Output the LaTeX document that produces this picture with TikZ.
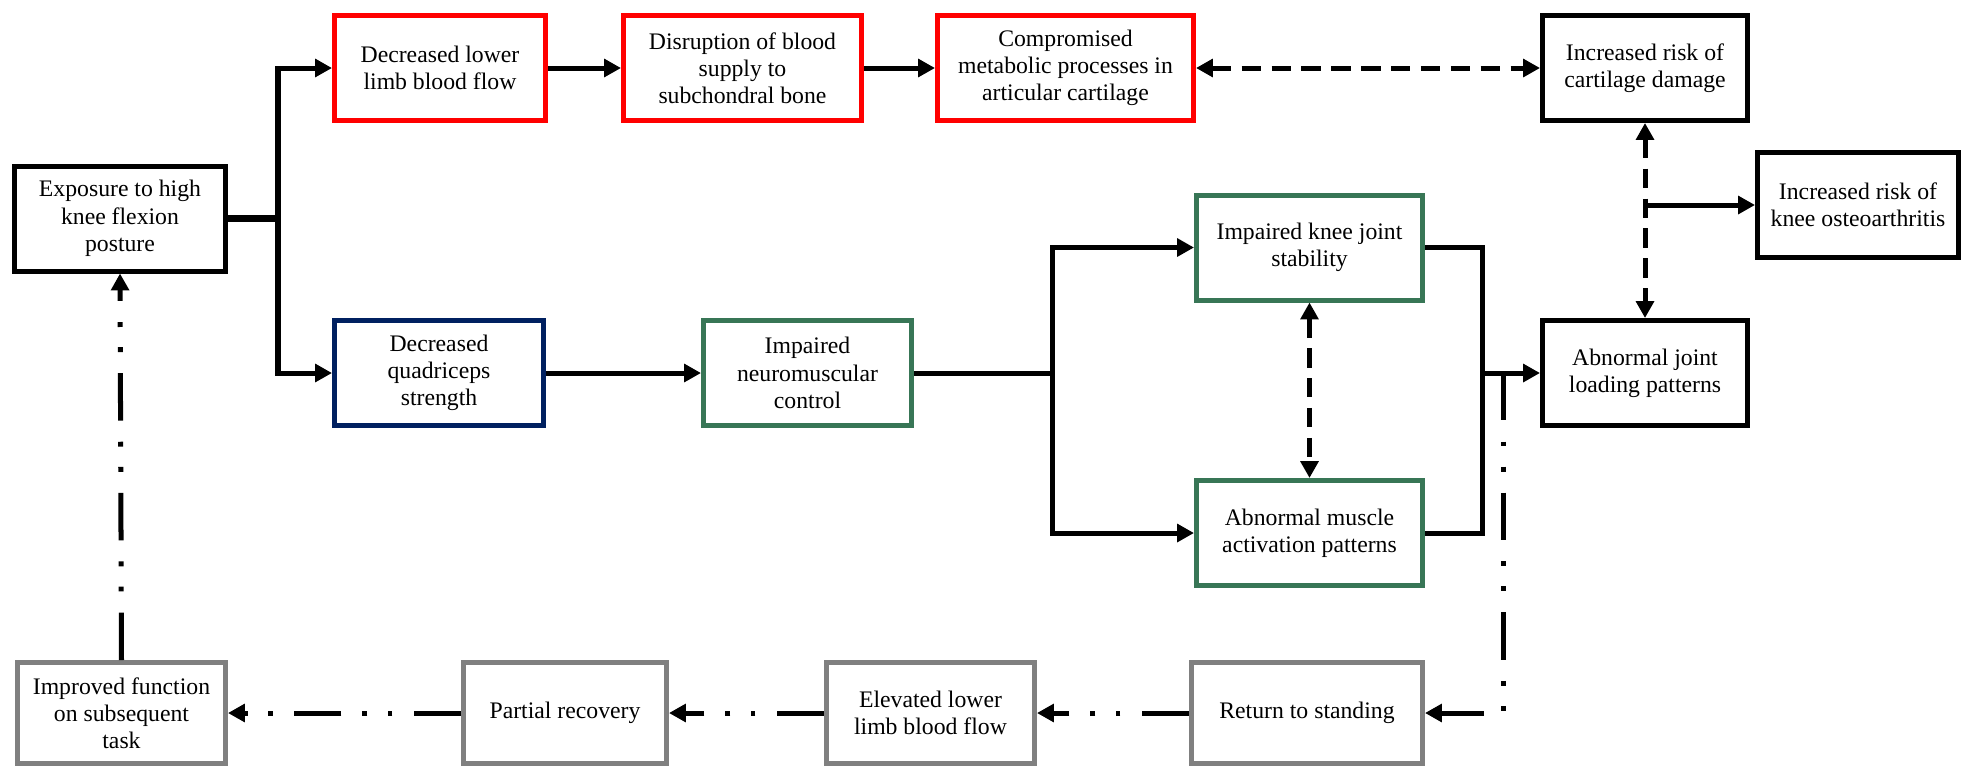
\documentclass[tikz,border=0pt]{standalone}
\usepackage{fontspec}
\setmainfont{Liberation Serif}
\usetikzlibrary{positioning,calc,arrows.meta}

\definecolor{flowred}{RGB}{255,0,0}
\definecolor{musclenavy}{RGB}{0,32,96}
\definecolor{controlgreen}{RGB}{56,118,86}
\definecolor{recoverygrey}{RGB}{128,128,128}

\begin{document}
\begin{tikzpicture}[
			box/.style={rectangle, draw, line width=2.85pt, minimum width=4.2cm, minimum height=2.1cm, align=center, inner sep=2pt, font=\fontsize{13.5}{15.5}\selectfont},
			redbox/.style={box, draw=flowred},
			navybox/.style={box, draw=musclenavy},
			greenbox/.style={box, draw=controlgreen},
			greybox/.style={box, draw=recoverygrey, minimum height=2.02cm},
			link/.style={line width=2.85pt},
			arr/.style={link, -{Triangle[length=9.6pt, width=10pt]}},
			dasharr/.style={link, dash pattern=on 11pt off 6pt, {Triangle[length=9.6pt, width=10pt]}-{Triangle[length=9.6pt, width=10pt]}},
			dotarr/.style={link, dash pattern=on 27pt off 12pt on 2.8pt off 11.5pt on 2.8pt off 12pt, -{Triangle[length=9.6pt, width=10pt]}},
		]

		\useasboundingbox (0,0) rectangle (39.26,-15.38);

		% top row: blood flow pathway
		\node[redbox, minimum width=4.22cm] (dllbf)   at (8.80,-1.36) {Decreased lower\\limb blood flow};
		\node[redbox, minimum width=4.76cm] (disrupt) at (14.85,-1.36) {Disruption of blood\\supply to\\subchondral bone};
		\node[redbox, minimum width=5.12cm] (comprom) at (21.31,-1.36) {Compromised\\metabolic processes in\\articular cartilage};
		\node[box, minimum width=4.10cm] (cartdmg) at (32.90,-1.36) {Increased risk of\\cartilage damage};
		\node[box, minimum width=4.02cm] (kneeoa)  at (37.16,-4.10) {Increased risk of\\knee osteoarthritis};

		% middle: muscle pathway
		\node[box, minimum width=4.22cm] (exposure) at (2.40,-4.37) {Exposure to high\\knee flexion\\posture};
		\node[navybox, minimum width=4.18cm] (quad)  at (8.78,-7.46) {Decreased\\quadriceps\\strength};
		\node[greenbox, minimum width=4.16cm] (neuro) at (16.15,-7.46) {Impaired\\neuromuscular\\control};
		\node[greenbox, minimum width=4.52cm] (stability) at (26.19,-4.95) {Impaired knee joint\\stability};
		\node[greenbox, minimum width=4.52cm] (muscle)    at (26.19,-10.66) {Abnormal muscle\\activation patterns};
		\node[box, minimum width=4.10cm] (loading) at (32.90,-7.46) {Abnormal joint\\loading patterns};

		% bottom row: recovery
		\node[greybox, minimum width=4.16cm] (improved) at (2.43,-14.26) {Improved function\\on subsequent\\task};
		\node[greybox, minimum width=4.06cm] (partial)  at (11.30,-14.26) {Partial recovery};
		\node[greybox, minimum width=4.16cm] (elevated) at (18.61,-14.26) {Elevated lower\\limb blood flow};
		\node[greybox, minimum width=4.62cm] (return)   at (26.14,-14.26) {Return to standing};

		\coordinate (split) at (5.56,-4.37);
		\coordinate (fork)  at (21.04,-7.46);
		\coordinate (merge) at (29.64,-7.46);
		\coordinate (tap)   at (30.06,-7.46);

		\draw[link, line width=4.5pt] (exposure.east) -- (split);
		\draw[arr] (split) |- (dllbf.west);
		\draw[arr] (split) |- (quad.west);
		\draw[arr] (dllbf.east) -- (disrupt.west);
		\draw[arr] (disrupt.east) -- (comprom.west);
		\draw[dasharr] (comprom.east) -- (cartdmg.west);
		\draw[dasharr] (cartdmg.south) -- (loading.north);
		\draw[arr] (cartdmg.south |- kneeoa.west) -- (kneeoa.west);

		\draw[arr] (quad.east) -- (neuro.west);
		\draw[link] (neuro.east) -- (fork);
		\draw[arr] (fork) |- (stability.west);
		\draw[arr] (fork) |- (muscle.west);
		\draw[dasharr] (stability.south) -- (muscle.north);
		\draw[link] (stability.east) -| (merge) |- (muscle.east);
		\draw[arr] (merge) -- (loading.west);

		% recovery loop
		\draw[dotarr] (tap) |- (return.east);
		\draw[dotarr] (return.west) -- (elevated.east);
		\draw[dotarr] (elevated.west) -- (partial.east);
		\draw[dotarr] (partial.west) -- (improved.east);
		\draw[dotarr] (improved.north) -- (exposure.south);

	\end{tikzpicture}
\end{document}
